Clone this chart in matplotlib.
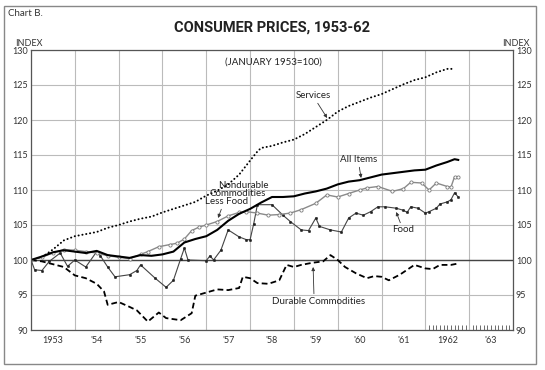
import matplotlib
matplotlib.use("Agg")
import matplotlib.pyplot as plt
from matplotlib.patches import Rectangle
import numpy as np

plt.rcParams['font.family'] = ['Lato', 'DejaVu Sans']

# ---------------- data (months after January 1953) ----------------
services_m = [0, 3, 6, 9, 12, 15, 18, 21, 24, 27, 30, 33, 36, 39, 42, 45, 48, 51, 54, 57,
              60, 62, 63, 66, 69, 72, 75, 78, 81, 84, 87, 90, 93, 96, 99, 102, 105, 108,
              111, 114, 116]
services_v = [100.0, 100.4, 101.5, 102.8, 103.4, 103.7, 104.0, 104.6, 105.0, 105.5, 105.9,
              106.2, 106.8, 107.3, 107.8, 108.3, 109.2, 109.9, 110.8, 112.2, 114.2, 115.5,
              116.0, 116.3, 116.8, 117.2, 118.0, 119.0, 120.0, 121.2, 122.0, 122.6, 123.2,
              123.7, 124.4, 125.1, 125.7, 126.1, 126.8, 127.3, 127.3]

allitems_m = [0, 3, 6, 9, 12, 15, 18, 21, 24, 27, 30, 33, 36, 39, 42, 45, 48, 51, 54, 57,
              60, 63, 66, 69, 72, 75, 78, 81, 84, 87, 90, 93, 96, 99, 102, 105, 108, 111,
              114, 116, 117]
allitems_v = [100.0, 100.5, 101.1, 101.4, 101.2, 101.0, 101.3, 100.7, 100.5, 100.3, 100.7,
              100.6, 100.8, 101.2, 102.5, 103.0, 103.4, 104.3, 105.6, 106.6, 107.3, 108.2,
              109.0, 109.0, 109.1, 109.5, 109.8, 110.2, 110.8, 111.2, 111.4, 111.8, 112.2,
              112.4, 112.6, 112.8, 112.9, 113.5, 114.0, 114.4, 114.3]

nondur_m = [0, 3, 6, 9, 12, 15, 18, 21, 24, 27, 30, 32, 35, 38, 40, 42, 44, 46, 48, 51,
            54, 57, 59, 62, 65, 68, 71, 74, 78, 81, 84, 87, 90, 92, 95, 99, 102, 104, 107,
            109, 111, 114, 115, 116, 117]
nondur_v = [100.0, 100.4, 101.0, 101.5, 101.4, 101.2, 101.0, 100.6, 100.4, 100.2, 100.8,
            101.2, 101.9, 102.2, 102.4, 103.0, 104.2, 104.7, 105.0, 105.5, 106.3, 106.8,
            106.9, 106.7, 106.4, 106.5, 106.7, 107.2, 108.1, 109.3, 109.0, 109.5, 110.0,
            110.3, 110.5, 109.8, 110.2, 111.1, 111.0, 110.0, 111.0, 110.5, 110.4, 111.9,
            111.9]

food_m = [0, 1, 3, 5, 8, 10, 12, 15, 18, 19, 21, 23, 27, 29, 30, 34, 37, 39, 41, 42, 43,
          48, 49, 50, 52, 54, 57, 59, 60, 61, 62, 66, 69, 71, 74, 76, 78, 79, 82, 85, 87,
          89, 91, 93, 95, 97, 100, 102, 103, 104, 106, 108, 109, 111, 112, 114, 115, 116,
          117]
food_v = [100.0, 98.6, 98.5, 99.8, 101.0, 99.1, 100.0, 99.0, 101.2, 100.6, 99.0, 97.6,
          97.9, 98.5, 99.3, 97.4, 96.1, 97.1, 100.2, 101.7, 100.0, 99.9, 100.6, 100.0,
          101.4, 104.3, 103.3, 102.9, 102.9, 105.2, 107.9, 107.9, 106.4, 105.5, 104.3,
          104.2, 106.0, 104.8, 104.3, 104.0, 106.0, 106.7, 106.4, 106.9, 107.6, 107.6,
          107.4, 107.1, 106.8, 107.6, 107.4, 106.7, 106.9, 107.4, 108.0, 108.3, 108.6,
          109.6, 109.0]

durable_m = [0, 3, 6, 9, 12, 15, 18, 20, 21, 24, 27, 29, 32, 35, 37, 41, 44, 45, 47, 51,
             54, 57, 58, 60, 62, 65, 68, 70, 72, 74, 77, 80, 82, 84, 86, 89, 92, 94, 96,
             98, 101, 105, 108, 110, 112, 115, 117]
durable_v = [100.0, 99.8, 99.4, 99.0, 97.8, 97.4, 96.6, 95.5, 93.6, 94.0, 93.3, 92.8, 91.2,
             92.5, 91.7, 91.4, 92.4, 94.9, 95.2, 95.8, 95.7, 96.0, 97.6, 97.4, 96.7, 96.6,
             97.1, 99.3, 99.0, 99.3, 99.6, 99.8, 100.7, 100.0, 99.0, 98.1, 97.4, 97.7, 97.6,
             97.1, 97.9, 99.3, 98.8, 98.7, 99.3, 99.3, 99.5]

year_edges = list(range(1953, 1965))
year_labels = ["1953", "'54", "'55", "'56", "'57", "'58", "'59", "'60", "'61", "1962", "'63"]
y_ticks = [90, 95, 100, 105, 110, 115, 120, 125, 130]


def yr(months):
    return 1953 + np.asarray(months, dtype=float) / 12.0


W, H = 545, 370
fig = plt.figure(figsize=(W / 100, H / 100), dpi=100)
fig.patch.set_facecolor('white')


def fx(x):
    return x / W


def fy(y):
    return 1 - y / H


ax = fig.add_axes([fx(31), fy(330), (513 - 31) / W, (330 - 50) / H])
ax.set_xlim(1953, 1964)
ax.set_ylim(90, 130)

# grid
ax.set_xticks(year_edges)
ax.set_xticklabels([])
ax.set_xticks([y + 0.5 for y in year_edges[:-1]], minor=True)
ax.set_xticklabels(year_labels, minor=True)
ax.tick_params(axis='x', which='major', length=0)
ax.tick_params(axis='x', which='minor', length=0, pad=4, labelsize=6.5, colors='#333')
ax.set_yticks(y_ticks)
ax.tick_params(axis='y', length=0, pad=2, labelsize=6.5, labelleft=True, labelright=True,
               colors='#333')
ax.grid(True, which='major', color='#bbbbbb', lw=0.8)
ax.set_axisbelow(True)
for s in ax.spines.values():
    s.set_color('#555')
    s.set_linewidth(0.9)

ax.axhline(100, color='#444', lw=1.0, zorder=1.5)

# monthly hatch for 1962-63
hatch = [1962 + k / 12 for k in range(1, 12)] + [1963 + k / 12 for k in range(1, 12)]
ax.vlines(hatch, 90, 90.75, color='#555', lw=0.6)

# series
ax.plot(yr(services_m), services_v, color='black', lw=1.4,
        linestyle=(0, (0.1, 1.9)), dash_capstyle='round')
ax.plot(yr(durable_m), durable_v, color='black', lw=1.3, linestyle=(0, (3.2, 1.8)))
ax.plot(yr(food_m), food_v, color='#444', lw=0.8, marker='o', ms=1.8,
        mfc='#222', mec='#222', mew=0.3)
ax.plot(yr(nondur_m), nondur_v, color='#8a8a8a', lw=1.0, marker='o', ms=2.3,
        mfc='white', mec='#7a7a7a', mew=0.6)
ax.plot(yr(allitems_m), allitems_v, color='black', lw=1.5)

# annotations


def px2data(x, y):
    return 1953 + (x - 31) / 43.8, 100 - (y - 260) / 7.0


arrow = dict(arrowstyle='-|>', color='#333', lw=0.6, mutation_scale=5, shrinkA=0, shrinkB=0)
afs = 7

ax.annotate("Services", xy=px2data(327, 118), xytext=px2data(313, 96), ha='center',
            va='center', fontsize=afs, color='#222', arrowprops=arrow)
ax.annotate("All Items", xy=px2data(361, 178), xytext=px2data(358, 160), ha='center',
            va='center', fontsize=afs, color='#222', arrowprops=arrow)
ax.annotate("Food", xy=px2data(396, 212), xytext=px2data(403, 230), ha='center',
            va='center', fontsize=afs, color='#222', arrowprops=arrow)
ax.annotate("Durable Commodities", xy=px2data(313, 267), xytext=px2data(272, 301),
            ha='left', va='center', fontsize=afs, color='#222',
            arrowprops=dict(arrow, relpos=(0.45, 1.0)))
ax.text(*px2data(218, 186), "Nondurable", ha='left', va='center', fontsize=afs, color='#222')
ax.text(*px2data(209, 194), "Commodities", ha='left', va='center', fontsize=afs, color='#222')
ax.annotate("Less Food", xy=px2data(218, 218), xytext=px2data(205, 202), ha='left',
            va='center', fontsize=afs, color='#222',
            arrowprops=dict(arrow, relpos=(0.4, 0.0)))

# figure texts
fig.text(fx(8), fy(14), "Chart B.", fontsize=7, ha='left', va='center', color='#333')
fig.text(fx(272), fy(28), "CONSUMER PRICES, 1953-62", fontsize=10.5, weight='bold',
         ha='center', va='center', color='#222', family=['Roboto', 'DejaVu Sans'])
fig.text(fx(29), fy(43), "INDEX", fontsize=6.5, ha='center', va='center', color='#333')
fig.text(fx(516), fy(43), "INDEX", fontsize=6.5, ha='center', va='center', color='#333')
ax.text(*px2data(273, 62), "(JANUARY 1953=100)", fontsize=7, ha='center', va='center',
        color='#222')

fig.patches.append(Rectangle((fx(4), fy(364)), (536 - 4) / W, (364 - 6) / H,
                             transform=fig.transFigure, fill=False, ec='#888', lw=1.0))

fig.savefig("out.png", dpi=100)
